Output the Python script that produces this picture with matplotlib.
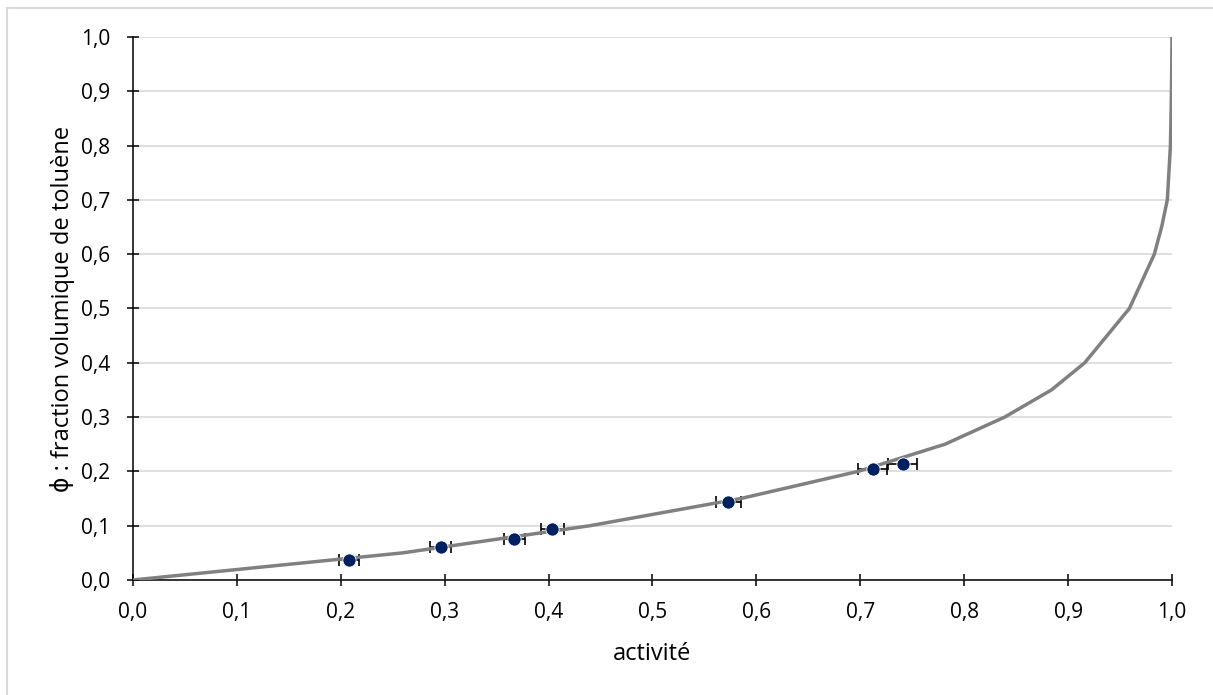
import matplotlib.pyplot as plt
from matplotlib.patches import Rectangle
from matplotlib.ticker import FuncFormatter, MultipleLocator

# Measured points: activity vs toluene volume fraction
activite = [0.208, 0.296, 0.367, 0.4035, 0.573, 0.712, 0.741]
phi = [0.036, 0.060, 0.076, 0.093, 0.143, 0.205, 0.214]
err_activite = [0.010, 0.010, 0.010, 0.011, 0.012, 0.014, 0.014]

# Model curve
courbe_phi = [0.0, 0.05, 0.10, 0.15, 0.20, 0.25, 0.30, 0.35, 0.40, 0.50,
              0.60, 0.65, 0.70, 0.80, 0.90, 1.00]
courbe_a = [0.0, 0.26, 0.44, 0.585, 0.698, 0.7815, 0.839, 0.884, 0.916, 0.959,
            0.983, 0.990, 0.9955, 0.9985, 0.9995, 1.0]

plt.rcParams['font.family'] = ['Open Sans', 'DejaVu Sans']

fig = plt.figure(figsize=(12.13, 6.95), dpi=100)
ax = fig.add_axes([0.1096, 0.1655, 0.8566, 0.7813])

# chart border (light grey)
fig.patches.append(Rectangle((6.5 / 1213, -0.05), 1.2, 0.05 + (695 - 7.5) / 695,
                             transform=fig.transFigure, fill=False,
                             edgecolor='#d9d9d9', linewidth=1.5))

ax.errorbar(activite, phi, xerr=err_activite, fmt='none', ecolor='black',
            elinewidth=1.2, capsize=4, capthick=1.2, zorder=2)
ax.plot(courbe_a, courbe_phi, color='#808080', linewidth=2.5, zorder=3)
ax.plot(activite, phi, 'o', color='#002060', markersize=9.5,
        markeredgecolor='white', markeredgewidth=0.6, zorder=4)

ax.set_xlim(0, 1)
ax.set_ylim(0, 1)
ax.xaxis.set_major_locator(MultipleLocator(0.1))
ax.yaxis.set_major_locator(MultipleLocator(0.1))
virgule = FuncFormatter(lambda v, p: f"{v:.1f}".replace('.', ','))
ax.xaxis.set_major_formatter(virgule)
ax.yaxis.set_major_formatter(virgule)

ax.grid(axis='y', color='#d9d9d9', linewidth=1.2, zorder=0)
ax.set_axisbelow(True)
for s in ['top', 'right']:
    ax.spines[s].set_visible(False)
for s in ['left', 'bottom']:
    ax.spines[s].set_linewidth(1.1)
    ax.spines[s].set_color('black')

ax.tick_params(direction='inout', length=9, width=1.1, labelsize=15,
               colors='black')
ax.tick_params(axis='x', pad=11)
ax.tick_params(axis='y', pad=12)

ax.set_xlabel("activité", fontsize=17, labelpad=14)
ax.set_ylabel("ϕ : fraction volumique de toluène", fontsize=17, labelpad=4)

fig.savefig("out.png", dpi=100)
